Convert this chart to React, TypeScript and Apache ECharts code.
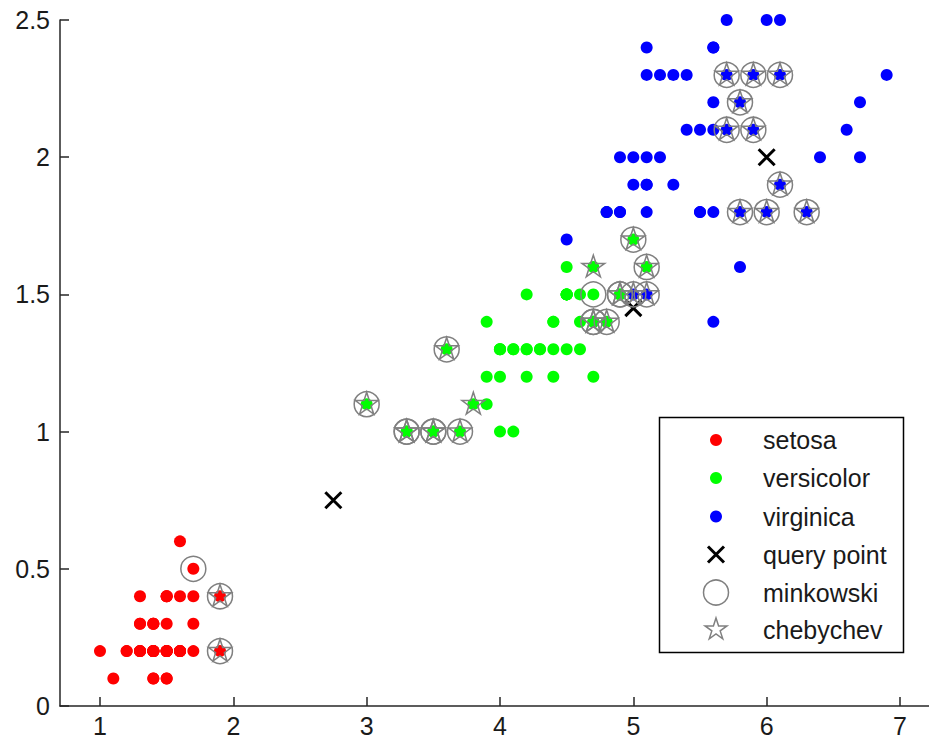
import React, { useEffect, useRef } from "react";
import * as echarts from "echarts";

// Fisher iris: petal length (x) and petal width (y)
const setosaLength = [1.4,1.4,1.3,1.5,1.4,1.7,1.4,1.5,1.4,1.5,1.5,1.6,1.4,1.1,1.2,1.5,1.3,1.4,1.7,1.5,1.7,1.5,1.0,1.7,1.9,1.6,1.6,1.5,1.4,1.6,1.6,1.5,1.5,1.4,1.5,1.2,1.3,1.4,1.3,1.5,1.3,1.3,1.3,1.6,1.9,1.4,1.6,1.4,1.5,1.4];
const setosaWidth = [0.2,0.2,0.2,0.2,0.2,0.4,0.3,0.2,0.2,0.1,0.2,0.2,0.1,0.1,0.2,0.4,0.4,0.3,0.3,0.3,0.2,0.4,0.2,0.5,0.2,0.2,0.4,0.2,0.2,0.2,0.2,0.4,0.1,0.2,0.2,0.2,0.2,0.1,0.2,0.2,0.3,0.3,0.2,0.6,0.4,0.3,0.2,0.2,0.2,0.2];

const versicolorLength = [4.7,4.5,4.9,4.0,4.6,4.5,4.7,3.3,4.6,3.9,3.5,4.2,4.0,4.7,3.6,4.4,4.5,4.1,4.5,3.9,4.8,4.0,4.9,4.7,4.3,4.4,4.8,5.0,4.5,3.5,3.8,3.7,3.9,5.1,4.5,4.5,4.7,4.4,4.1,4.0,4.4,4.6,4.0,3.3,4.2,4.2,4.2,4.3,3.0,4.1];
const versicolorWidth = [1.4,1.5,1.5,1.3,1.5,1.3,1.6,1.0,1.3,1.4,1.0,1.5,1.0,1.4,1.3,1.4,1.5,1.0,1.5,1.1,1.8,1.3,1.5,1.2,1.3,1.4,1.4,1.7,1.5,1.0,1.1,1.0,1.2,1.6,1.5,1.6,1.5,1.3,1.3,1.3,1.2,1.4,1.2,1.0,1.3,1.2,1.3,1.3,1.1,1.3];

const virginicaLength = [6.0,5.1,5.9,5.6,5.8,6.6,4.5,6.3,5.8,6.1,5.1,5.3,5.5,5.0,5.1,5.3,5.5,6.7,6.9,5.0,5.7,4.9,6.7,4.9,5.7,6.0,4.8,4.9,5.6,5.8,6.1,6.4,5.6,5.1,5.6,6.1,5.6,5.5,4.8,5.4,5.6,5.1,5.1,5.9,5.7,5.2,5.0,5.2,5.4,5.1];
const virginicaWidth = [2.5,1.9,2.1,1.8,2.2,2.1,1.7,1.8,1.8,2.5,2.0,1.9,2.1,2.0,2.4,2.3,1.8,2.2,2.3,1.5,2.3,2.0,2.0,1.8,2.1,1.8,1.8,1.8,2.1,1.6,1.9,2.0,2.2,1.5,1.4,2.3,2.4,1.8,1.8,2.1,2.4,2.3,1.9,2.3,2.5,2.3,1.9,2.0,2.3,1.8];

const queryX = [5, 6, 2.75];
const queryY = [1.45, 2, 0.75];

// 10 nearest neighbours of each query point
const minkowskiX = [4.7,4.7,4.8,4.7,4.9,4.9,5.0,5.1,5.1,5.0, 5.7,5.9,6.1,5.8,5.7,5.9,6.1,5.8,6.0,6.3, 3.0,3.3,3.3,3.5,3.5,3.7,3.6,1.7,1.9,1.9];
const minkowskiY = [1.4,1.4,1.4,1.5,1.5,1.5,1.5,1.5,1.6,1.7, 2.3,2.3,2.3,2.2,2.1,2.1,1.9,1.8,1.8,1.8, 1.1,1.0,1.0,1.0,1.0,1.0,1.3,0.5,0.4,0.2];
const chebychevX = [4.7,4.7,4.8,4.9,4.9,5.0,5.1,5.1,5.0,4.7, 5.7,5.9,6.1,5.8,5.7,5.9,6.1,5.8,6.0,6.3, 3.0,3.3,3.3,3.5,3.5,3.7,3.6,3.8,1.9,1.9];
const chebychevY = [1.4,1.4,1.4,1.5,1.5,1.5,1.5,1.6,1.7,1.6, 2.3,2.3,2.3,2.2,2.1,2.1,1.9,1.8,1.8,1.8, 1.1,1.0,1.0,1.0,1.0,1.0,1.3,1.1,0.4,0.2];

const xTicks = [1, 2, 3, 4, 5, 6, 7];
const legendNames = ["setosa", "versicolor", "virginica", "query point", "minkowski", "chebychev"];

const STAR_PATH =
  "path://M0,-100L22.45,-30.9L95.1,-30.9L36.33,11.8L58.8,80.9L0,38.2L-58.8,80.9L-36.33,11.8L-95.1,-30.9L-22.45,-30.9Z";
const CROSS_PATH = "path://M0,0L10,10M10,0L0,10";

const zip = (xs: number[], ys: number[]) => xs.map((x, i) => [x, ys[i]]);

const FONT = "'Liberation Sans', Arial, sans-serif";
const GRAY = "#808080";
const FS = 25;

function starPoints(cx: number, cy: number, R: number) {
  const pts: number[][] = [];
  for (let k = 0; k < 10; k++) {
    const r = k % 2 === 0 ? R : R * 0.382;
    const a = ((-90 + 36 * k) * Math.PI) / 180;
    pts.push([cx + r * Math.cos(a), cy + r * Math.sin(a)]);
  }
  return pts;
}

export default function App() {
  const ref = useRef<HTMLDivElement>(null);
  useEffect(() => {
    document.body.style.margin = "0";
    document.body.style.overflow = "hidden";
    const chart = echarts.init(ref.current!, null, { renderer: "svg" });

    const lx = 716;
    const rows = [440, 478, 516.5, 554.5, 592.5, 629.5];
    const textEls = legendNames.map((n, i) => ({
      type: "text",
      x: 763,
      y: rows[i],
      style: { text: n, fontSize: FS, fontFamily: FONT, fill: "#1a1a1a", verticalAlign: "middle", align: "left" },
    }));

    chart.setOption({
      animation: false,
      backgroundColor: "#fff",
      grid: { left: 60, top: 20, width: 880, height: 686, containLabel: false, outerBoundsMode: "none" },
      xAxis: {
        type: "value",
        min: 0.7,
        max: 7.3,
        axisLine: { show: true, onZero: false, lineStyle: { color: "#262626", width: 1.5 } },
        axisTick: { show: true, inside: true, length: 9, customValues: xTicks, lineStyle: { color: "#262626", width: 1.5 } },
        axisLabel: { customValues: xTicks, fontSize: FS, lineHeight: 20, fontFamily: FONT, color: "#1a1a1a", margin: 10 },
        splitLine: { show: false },
      },
      yAxis: {
        type: "value",
        min: 0,
        max: 2.5,
        interval: 0.5,
        axisLine: { show: true, onZero: false, lineStyle: { color: "#262626", width: 1.5 } },
        axisTick: { show: true, inside: true, length: 9, lineStyle: { color: "#262626", width: 1.5 } },
        axisLabel: { fontSize: FS, fontFamily: FONT, color: "#1a1a1a", margin: 10 },
        splitLine: { show: false },
      },
      series: [
        { name: "setosa", type: "scatter", data: zip(setosaLength, setosaWidth), symbol: "circle", symbolSize: 12, itemStyle: { color: "#ff0000", opacity: 1 } },
        { name: "versicolor", type: "scatter", data: zip(versicolorLength, versicolorWidth), symbol: "circle", symbolSize: 12, itemStyle: { color: "#00ff00", opacity: 1 } },
        { name: "virginica", type: "scatter", data: zip(virginicaLength, virginicaWidth), symbol: "circle", symbolSize: 12, itemStyle: { color: "#0000ff", opacity: 1 } },
        { name: "query point", type: "scatter", data: zip(queryX, queryY), symbol: CROSS_PATH, symbolSize: 16, itemStyle: { color: "none", borderColor: "#000", borderWidth: 3, opacity: 1 } },
        { name: "minkowski", type: "scatter", data: zip(minkowskiX, minkowskiY), symbol: "circle", symbolSize: 25, itemStyle: { color: "none", borderColor: GRAY, borderWidth: 1.5, opacity: 1 } },
        { name: "chebychev", type: "scatter", data: zip(chebychevX, chebychevY), symbol: STAR_PATH, symbolSize: [22.8, 21.7], symbolOffset: [0, -1], itemStyle: { color: "none", borderColor: GRAY, borderWidth: 1.5, opacity: 1 } },
      ],
      graphic: [
        {
          type: "group",
          z: 100,
          children: [
            { type: "rect", shape: { x: 659.5, y: 417.5, width: 244, height: 235 }, style: { fill: "#fff", stroke: "#000", lineWidth: 1.5 } },
            { type: "circle", shape: { cx: lx, cy: rows[0], r: 6 }, style: { fill: "#ff0000" } },
            { type: "circle", shape: { cx: lx, cy: rows[1], r: 6 }, style: { fill: "#00ff00" } },
            { type: "circle", shape: { cx: lx, cy: rows[2], r: 6 }, style: { fill: "#0000ff" } },
            { type: "line", shape: { x1: lx - 8, y1: rows[3] - 8, x2: lx + 8, y2: rows[3] + 8 }, style: { stroke: "#000", lineWidth: 3 } },
            { type: "line", shape: { x1: lx - 8, y1: rows[3] + 8, x2: lx + 8, y2: rows[3] - 8 }, style: { stroke: "#000", lineWidth: 3 } },
            { type: "circle", shape: { cx: lx, cy: rows[4], r: 12.5 }, style: { fill: "none", stroke: GRAY, lineWidth: 1.5 } },
            { type: "polygon", shape: { points: starPoints(lx, rows[5], 11.5) }, style: { fill: "none", stroke: GRAY, lineWidth: 1.5 } },
            ...textEls,
          ],
        },
      ],
    });
    return () => chart.dispose();
  }, []);
  return <div ref={ref} style={{ position: "absolute", left: 0, top: 0, width: 929, height: 739 }} />;
}
